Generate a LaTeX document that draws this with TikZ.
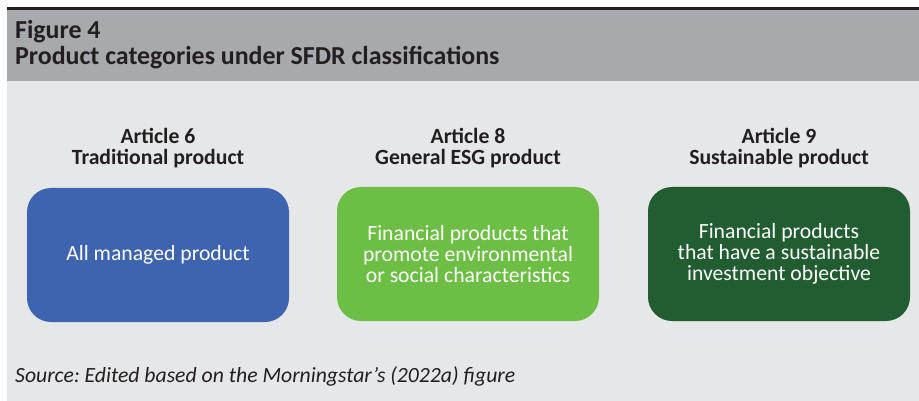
\documentclass[tikz,border=0pt]{standalone}
\usepackage{fontspec}
\setmainfont{Carlito}
\frenchspacing
\definecolor{headgrey}{HTML}{A7A9AC}
\definecolor{panelgrey}{HTML}{E6E7E8}
\definecolor{inkdark}{HTML}{231F20}
\definecolor{artblue}{HTML}{3F64AF}
\definecolor{artgreen}{HTML}{6CBE45}
\definecolor{artdark}{HTML}{215D30}
\begin{document}
\begin{tikzpicture}[x=1pt,y=-1pt,
  catbox/.style={rounded corners=24pt, minimum width=262pt, minimum height=134pt,
    inner sep=0pt, text=white, align=center,
    font=\fontsize{21.7}{21}\selectfont},
  cathead/.style={text=inkdark, align=center, inner sep=0pt, anchor=base,
    font=\bfseries\fontsize{21.7}{21}\selectfont},
  titleline/.style={anchor=base west, inner sep=0pt, text=inkdark,
    font=\bfseries\fontsize{25.9}{26}\selectfont},
]
\useasboundingbox (0,0) rectangle (919,401);
\fill[white] (0,0) rectangle (919,401);
% panel and header band
\fill[panelgrey] (7,81) rectangle (919,401);
\fill[headgrey] (7,9.5) rectangle (919,81);
\fill[inkdark] (7,7) rectangle (919,10);
\node[titleline] (fig) at (15,39) {Figure 4};
\node[titleline] (title) at (15,65) {Product categories under SFDR classifications};
% category headings (anchored on the second line's baseline)
\node[cathead] (h6) at (158,165) {Article 6\\Traditional product};
\node[cathead] (h8) at (468,165) {Article 8\\General ESG product};
\node[cathead] (h9) at (779,165) {Article 9\\Sustainable product};
% category boxes
\node[catbox, fill=artblue] (b6) at (158,255) {All managed product};
\node[catbox, fill=artgreen] (b8) at (468,254) {Financial products that\\promote environmental\\or social characteristics};
\node[catbox, fill=artdark] (b9) at (779,254) {Financial products\\that have a sustainable\\investment objective};
% source note
\node[anchor=base west, inner sep=0pt, text=inkdark,
  font=\itshape\fontsize{21.7}{21}\selectfont] (src) at (15,382)
  {Source: Edited based on the Morningstar’s (2022a) figure};
\end{tikzpicture}
\end{document}
